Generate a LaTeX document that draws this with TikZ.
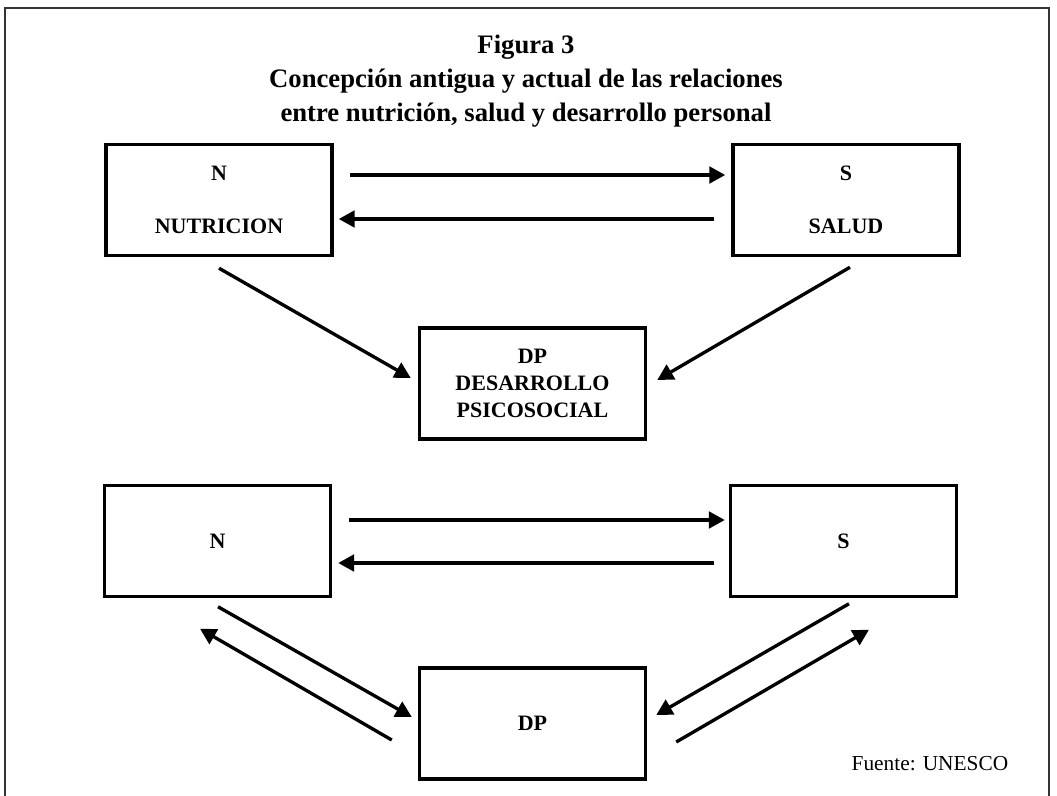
\documentclass[tikz,border=0pt]{standalone}
\usepackage{fontspec}
\setmainfont{Liberation Serif}
\usetikzlibrary{arrows.meta,calc}
\begin{document}
\begin{tikzpicture}[x=0.75pt,y=-0.75pt,
  box/.style={draw, line width=2.6pt, minimum width=169.5pt, minimum height=83.25pt, align=center, inner sep=0pt},
  lbl/.style={font=\fontsize{16.5}{39.75}\selectfont\bfseries},
  lbltight/.style={font=\fontsize{16.5}{20.25}\selectfont\bfseries},
  arr/.style={-{Triangle[length=12pt,width=12.5pt]}, line width=2.5pt}
]
\useasboundingbox (0,0) rectangle (1057,796);
\draw[line width=1.8pt, black!80] (5,8) rectangle (1049,812);

\node[font=\fontsize{20}{25.5}\selectfont\bfseries, align=center] (title) at (526,81)
  {Figura 3\\Concepción antigua y actual de las relaciones\\entre nutrición, salud y desarrollo personal};

% upper diagram
\node[box, lbl] (N1) at (219,200) {N\\NUTRICION};
\node[box, lbl] (S1) at (846,200) {S\\SALUD};
\node[box, lbltight] (DP1) at (532.5,383.5) {DP\\DESARROLLO\\PSICOSOCIAL};

\draw[arr] ($(N1.east)+(16,-25)$) -- ($(S1.west)+(-6,-25)$);
\draw[arr] ($(S1.west)+(-17,19)$) -- ($(N1.east)+(5,19)$);
\draw[arr] ($(N1.south)+(0,11)$) -- ($(DP1.west)+(-7,-5.5)$);
\draw[arr] ($(S1.south)+(4,10)$) -- ($(DP1.east)+(10,-3.5)$);

% lower diagram
\node[box, lbl] (N2) at (217.5,541) {N};
\node[box, lbl] (S2) at (843.5,541) {S};
\node[box, lbl] (DP2) at (532.5,723.5) {DP};

\draw[arr] ($(N2.east)+(17,-21)$) -- ($(S2.west)+(-4,-21)$);
\draw[arr] ($(S2.west)+(-15,22)$) -- ($(N2.east)+(6,22)$);
\draw[arr] ($(N2.south)+(0.5,8.5)$) -- ($(DP2.west)+(-6,-6.5)$);
\draw[arr] ($(DP2.west)+(-26,16.5)$) -- ($(N2.south)+(-17.5,30.5)$);
\draw[arr] ($(S2.south)+(5.5,5.5)$) -- ($(DP2.east)+(9,-8.5)$);
\draw[arr] ($(DP2.east)+(29,18.5)$) -- ($(S2.south)+(25.5,31.5)$);

\node[font=\fontsize{16}{19}\selectfont, anchor=base west] (src) at (847,770) {Fuente: UNESCO};
\end{tikzpicture}
\end{document}
